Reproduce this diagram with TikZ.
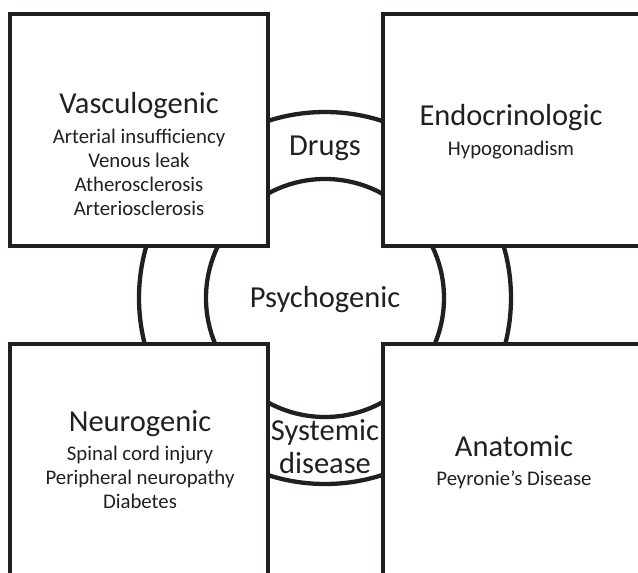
\documentclass[tikz,border=0pt]{standalone}
\usepackage{fontspec}
\setmainfont{Carlito}
\definecolor{ink}{HTML}{231F20}
\begin{document}
\begin{tikzpicture}[x=1pt,y=-1pt,line width=4.3pt,draw=ink,text=ink]
  \tikzstyle{box}=[draw, fill=white, rectangle, inner sep=0pt, minimum width=258pt, minimum height=232pt]
  \tikzstyle{title}=[font=\fontsize{30.5}{33}\selectfont, align=center, anchor=base, inner sep=0pt]
  \tikzstyle{cause}=[font=\fontsize{20.8}{24}\selectfont, align=center, anchor=base, inner sep=0pt]
  \useasboundingbox (0,0) rectangle (638,573);
  \clip (0,0) rectangle (638,573);
  % the ring
  \coordinate (mid) at (325,298);
  \draw (mid) circle (186pt);
  \draw (mid) circle (119pt);
  % the four corners
  \node[box] (vasc) at (139,130) {};
  \node[box] (endo) at (512,130) {};
  \node[box] (neuro) at (139,460) {};
  \node[box] (anat) at (512,460) {};
  % texts (multi-line nodes sit on their last line)
  \node[title] (vasct) at (139,113) {Vasculogenic};
  \node[cause] (vascc) at (139,215) {Arterial insufficiency\\Venous leak\\Atherosclerosis\\Arteriosclerosis};
  \node[title] (endot) at (511,125) {Endocrinologic};
  \node[cause] (endoc) at (511,155) {Hypogonadism};
  \node[title] (neurot) at (140,431) {Neurogenic};
  \node[cause] (neuroc) at (140,508) {Spinal cord injury\\Peripheral neuropathy\\Diabetes};
  \node[title] (anatt) at (514,456) {Anatomic};
  \node[cause] (anatc) at (514,485) {Peyronie’s Disease};
  \node[title] (psycho) at (325,307) {Psychogenic};
  \node[title] (drugs) at (325,155) {Drugs};
  \node[title] (syst) at (325,473) {Systemic\\disease};
\end{tikzpicture}
\end{document}
